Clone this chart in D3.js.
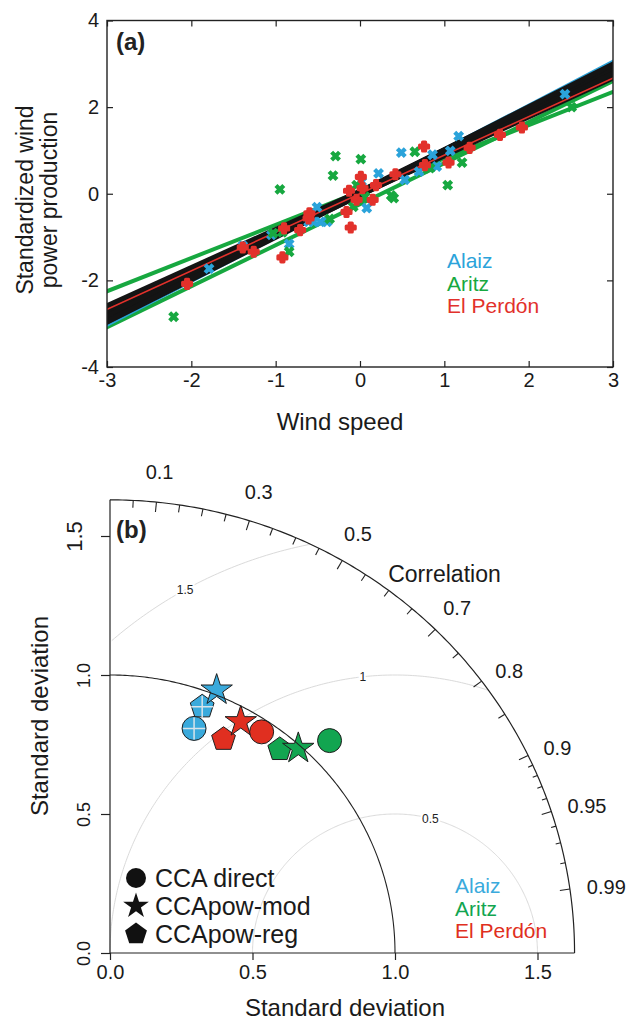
<!DOCTYPE html>
<html>
<head>
<meta charset="utf-8">
<script src="https://cdn.jsdelivr.net/npm/d3@7"></script>
<style>
  body { margin: 0; background: #fff; }
  text { font-family: "Liberation Sans", Arial, Helvetica, sans-serif; }
</style>
</head>
<body>
<div id="chart"></div>
<script>
// ---------- panel (a): standardized wind speed vs wind power, one list per farm
const alaizPts = [[2.43, 2.30], [1.17, 1.33], [1.07, 0.99], [0.86, 0.90], [0.91, 0.63],
  [0.70, 0.51], [0.49, 0.95], [0.53, 0.32], [0.22, 0.47], [0.08, -0.33], [0.02, 0.28],
  [-0.51, -0.31], [-0.61, -0.65], [-0.55, -0.65], [-0.47, -0.65], [-0.39, -0.65],
  [-1.05, -0.95], [-0.84, -1.16], [-1.39, -1.20], [-1.79, -1.73]];
const aritzPts = [[-2.21, -2.84], [-0.95, 0.10], [-0.84, -1.34], [-0.92, -0.89], [-1.03, -0.91],
  [-0.29, 0.87], [-0.32, 0.42], [-0.36, -0.58], [0.01, 0.80], [-0.04, 0.20], [0.06, -0.07],
  [-0.08, -0.30], [0.37, -0.04], [0.40, -0.10], [0.65, 0.97], [0.83, 0.59], [1.04, 0.20],
  [1.21, 0.72], [2.51, 2.00]];
const perdonPts = [[-2.05, -2.08], [-1.39, -1.24], [-1.26, -1.34], [-0.92, -1.47], [-0.90, -0.80],
  [-0.71, -0.84], [-0.60, -0.45], [-0.61, -0.57], [-0.16, -0.42], [-0.11, -0.78], [-0.13, 0.07],
  [-0.04, -0.14], [0.01, 0.39], [0.03, 0.13], [0.15, -0.14], [0.19, 0.20], [0.42, 0.45],
  [0.76, 1.09], [0.77, 0.66], [1.05, 0.72], [1.30, 1.06], [1.66, 1.36], [1.92, 1.53]];

const siteNames = ["Alaiz", "Aritz", "El Perdón"];
const siteColors = ["#2ba3da", "#17a840", "#e2312b"];

// coloured regression lines (site index, slope, intercept)
const fitSite = [1, 1, 0, 2];
const fitSlope = [0.767, 0.947, 1.012, 0.89];
const fitIntercept = [0.05, -0.24, 0.01, 0.0];
// black bundle of fitted lines
const bandSlope = [0.88, 0.90, 0.92, 0.94, 0.96, 0.98, 0.99];
const bandIntercept = [0.05, -0.02, 0.04, -0.03, 0.05, -0.02, 0.02];

const xTicksA = [-3, -2, -1, 0, 1, 2, 3];
const yTicksA = [-4, -2, 0, 2, 4];

// ---------- panel (b): Taylor diagram, [CCA direct, CCApow-mod, CCApow-reg]
const methodNames = ["CCA direct", "CCApow-mod", "CCApow-reg"];
const alaizSd = [0.860, 1.017, 0.943];
const alaizCor = [0.343, 0.368, 0.343];
const aritzSd = [1.085, 0.989, 0.944];
const aritzCor = [0.710, 0.668, 0.631];
const perdonSd = [0.957, 0.950, 0.866];
const perdonCor = [0.556, 0.483, 0.460];

const corTicks = [0.05, 0.1, 0.15, 0.2, 0.25, 0.3, 0.35, 0.4, 0.45, 0.5, 0.55, 0.6, 0.65,
  0.7, 0.75, 0.8, 0.85, 0.9, 0.91, 0.92, 0.93, 0.94, 0.95, 0.96, 0.97, 0.98, 0.99];
const corLabels = [0.1, 0.3, 0.5, 0.7, 0.8, 0.9, 0.95, 0.99];
const sdTicks = [0, 0.5, 1, 1.5];
const rmsLevels = [0.5, 1, 1.5];

const W = 630, H = 1023;
const svg = d3.select("#chart").append("svg")
    .attr("width", W)
    .attr("height", H);

// =================== panel (a) ===================
const xA = d3.scaleLinear().domain([-3, 3]).range([107, 613]);
const yA = d3.scaleLinear().domain([-4, 4]).range([367, 20.5]);

svg.append("clipPath").attr("id", "clipA")
  .append("rect")
    .attr("x", xA(-3)).attr("y", yA(4))
    .attr("width", xA(3) - xA(-3)).attr("height", yA(-4) - yA(4));

const plotA = svg.append("g").attr("clip-path", "url(#clipA)");

const fitPath = (m, b) => d3.line()([[xA(-3.2), yA(m * -3.2 + b)], [xA(3.2), yA(m * 3.2 + b)]]);

// green and blue fits under the black bundle
[0, 1, 2].forEach(i => {
  plotA.append("path")
    .attr("d", fitPath(fitSlope[i], fitIntercept[i]))
    .attr("stroke", siteColors[fitSite[i]])
    .attr("stroke-width", 4)
    .attr("fill", "none");
});

bandSlope.forEach((m, i) => {
  plotA.append("path")
    .attr("d", fitPath(m, bandIntercept[i]))
    .attr("stroke", "#141414")
    .attr("stroke-width", 5.5)
    .attr("fill", "none");
});

plotA.append("path")
  .attr("d", fitPath(fitSlope[3], fitIntercept[3]))
  .attr("stroke", siteColors[fitSite[3]])
  .attr("stroke-width", 1.6)
  .attr("fill", "none");

// thick x marker
const symbolX = {
  draw(ctx, size) {
    const r = Math.sqrt(size) / 2;
    ctx.moveTo(-r, -r); ctx.lineTo(r, r);
    ctx.moveTo(-r, r); ctx.lineTo(r, -r);
  }
};

const drawX = (pts, color) => {
  plotA.selectAll(null).data(pts).enter().append("path")
    .attr("transform", d => `translate(${xA(d[0])},${yA(d[1])})`)
    .attr("d", d3.symbol(symbolX, 62))
    .attr("stroke", color)
    .attr("stroke-width", 4.2)
    .attr("fill", "none");
};
drawX(alaizPts, siteColors[0]);
drawX(aritzPts, siteColors[1]);

// El Perdón: rounded, blobby plus
plotA.selectAll(null).data(perdonPts).enter().append("path")
  .attr("transform", d => `translate(${xA(d[0])},${yA(d[1])})`)
  .attr("d", d3.symbol(d3.symbolCross, 44))
  .attr("fill", siteColors[2])
  .attr("stroke", siteColors[2])
  .attr("stroke-width", 3.2)
  .attr("stroke-linejoin", "round");

// axes, ticks pointing inward
const styleAxis = g => {
  g.select(".domain").remove();
  g.selectAll("line").attr("stroke", "#222").attr("stroke-width", 1.2);
  g.selectAll("text").attr("font-size", 20).attr("fill", "#1a1a1a")
    .attr("font-family", "'Liberation Sans', Arial, sans-serif");
};
const plainNum = d => String(d);

svg.append("g")
  .attr("transform", `translate(0,${yA(-4)})`)
  .call(d3.axisBottom(xA).tickValues(xTicksA).tickSizeInner(-6).tickSizeOuter(0)
    .tickPadding(6).tickFormat(plainNum))
  .call(styleAxis);
svg.append("g")
  .attr("transform", `translate(0,${yA(4)})`)
  .call(d3.axisTop(xA).tickValues(xTicksA).tickSizeInner(-6).tickSizeOuter(0).tickFormat(""))
  .call(styleAxis);
svg.append("g")
  .attr("transform", `translate(${xA(-3)},0)`)
  .call(d3.axisLeft(yA).tickValues(yTicksA).tickSizeInner(-6).tickSizeOuter(0)
    .tickPadding(8).tickFormat(plainNum))
  .call(styleAxis);
svg.append("g")
  .attr("transform", `translate(${xA(3)},0)`)
  .call(d3.axisRight(yA).tickValues(yTicksA).tickSizeInner(-6).tickSizeOuter(0).tickFormat(""))
  .call(styleAxis);

svg.append("rect")
  .attr("x", xA(-3)).attr("y", yA(4))
  .attr("width", xA(3) - xA(-3)).attr("height", yA(-4) - yA(4))
  .attr("fill", "none")
  .attr("stroke", "#222")
  .attr("stroke-width", 1.4);

svg.append("text")
  .attr("x", 116).attr("y", 50)
  .attr("font-size", 24).attr("font-weight", "bold").attr("fill", "#222")
  .text("(a)");

// axis titles
svg.append("text")
  .attr("x", 340).attr("y", 430)
  .attr("text-anchor", "middle")
  .attr("font-size", 24).attr("fill", "#1a1a1a")
  .text("Wind speed");

svg.append("text")
  .attr("transform", "translate(33,200) rotate(-90)")
  .attr("text-anchor", "middle")
  .attr("font-size", 23).attr("fill", "#1a1a1a")
  .text("Standardized wind");
svg.append("text")
  .attr("transform", "translate(57,200) rotate(-90)")
  .attr("text-anchor", "middle")
  .attr("font-size", 23).attr("fill", "#1a1a1a")
  .text("power production");

// site legend
siteNames.forEach((s, i) => {
  svg.append("text")
    .attr("x", 447).attr("y", 268 + i * 22.5)
    .attr("font-size", 21).attr("fill", siteColors[i])
    .text(s);
});

// =================== panel (b) ===================
const sx = d3.scaleLinear().domain([0, 1]).range([110, 395]);
const sy = d3.scaleLinear().domain([0, 1]).range([953, 675]);
const rMax = 1.63;
const polar = (r, c) => [sx(r * c), sy(r * Math.sqrt(1 - c * c))];
const lineGen = d3.line();
const deg = Math.PI / 180;

const plotB = svg.append("g");

// centred RMS difference arcs (light grey), kept inside the outer arc
rmsLevels.forEach(L => {
  const pts = d3.range(0, 180.01, 0.5).map(a => [1 + L * Math.cos(a * deg), L * Math.sin(a * deg)]);
  const line = d3.line()
    .defined(p => Math.hypot(p[0], p[1]) <= rMax && p[0] >= 0)
    .x(p => sx(p[0])).y(p => sy(p[1]));
  plotB.append("path")
    .attr("d", line(pts))
    .attr("fill", "none")
    .attr("stroke", "#dadada")
    .attr("stroke-width", 1);
});

// labels sitting on the RMS arcs
const rmsLabelAngle = [75.6, 96.5, 119.4];
rmsLevels.forEach((L, i) => {
  const a = rmsLabelAngle[i] * deg;
  plotB.append("text")
    .attr("x", sx(1 + L * Math.cos(a)))
    .attr("y", sy(L * Math.sin(a)))
    .attr("dy", "0.35em")
    .attr("text-anchor", "middle")
    .attr("font-size", 12).attr("fill", "#222")
    .attr("stroke", "#fff").attr("stroke-width", 4).attr("paint-order", "stroke")
    .text(L);
});

// outer correlation arc
const outerPts = d3.range(0, 90.01, 0.5).map(a => [sx(rMax * Math.cos(a * deg)), sy(rMax * Math.sin(a * deg))]);
plotB.append("path")
  .attr("d", lineGen(outerPts))
  .attr("fill", "none").attr("stroke", "#222").attr("stroke-width", 1.2);

// axis lines
plotB.append("line")
  .attr("x1", sx(0)).attr("y1", sy(0)).attr("x2", sx(0)).attr("y2", sy(rMax))
  .attr("stroke", "#222").attr("stroke-width", 1.2);
plotB.append("line")
  .attr("x1", sx(0)).attr("y1", sy(0)).attr("x2", sx(rMax)).attr("y2", sy(0))
  .attr("stroke", "#222").attr("stroke-width", 1.2);

// correlation ticks, pointing inward
corTicks.forEach(c => {
  const lab = corLabels.includes(c);
  const len = lab ? 10 : (c > 0.9 && c < 0.99 && c !== 0.95 ? 5 : 7.5);
  const p1 = polar(rMax, c), p2 = polar(rMax - len / 282, c);
  plotB.append("line")
    .attr("x1", p1[0]).attr("y1", p1[1]).attr("x2", p2[0]).attr("y2", p2[1])
    .attr("stroke", "#222").attr("stroke-width", 1.1);
});

corLabels.forEach(c => {
  const p = c <= 0.7 ? polar(1.74, c) : polar(1.69, c);
  plotB.append("text")
    .attr("x", p[0]).attr("y", p[1])
    .attr("dy", "0.35em")
    .attr("text-anchor", c <= 0.7 ? "middle" : "start")
    .attr("font-size", 20).attr("fill", "#1a1a1a")
    .text(c);
});

const corTitle = polar(1.80, 0.652);
plotB.append("text")
  .attr("x", corTitle[0]).attr("y", corTitle[1])
  .attr("dy", "0.35em")
  .attr("text-anchor", "middle")
  .attr("font-size", 23).attr("fill", "#1a1a1a")
  .text("Correlation");

// standard deviation axes
svg.append("g")
  .attr("transform", `translate(${sx(0)},0)`)
  .call(d3.axisLeft(sy).tickValues(sdTicks).tickSize(9).tickFormat(d3.format(".1f")))
  .call(g => {
    g.select(".domain").remove();
    g.selectAll("line").attr("stroke", "#222").attr("stroke-width", 1.2);
    g.selectAll("text")
      .attr("transform", "rotate(-90)")
      .attr("x", 0).attr("dy", 0)
      .attr("y", d => d === 1.5 ? -28 : -20)
      .attr("text-anchor", "middle")
      .attr("font-size", d => d === 1.5 ? 22 : 18)
      .attr("fill", "#1a1a1a")
      .attr("font-family", "'Liberation Sans', Arial, sans-serif");
  });

svg.append("g")
  .attr("transform", `translate(0,${sy(0)})`)
  .call(d3.axisBottom(sx).tickValues(sdTicks).tickSize(7).tickPadding(5).tickFormat(d3.format(".1f")))
  .call(g => {
    g.select(".domain").remove();
    g.selectAll("line").attr("stroke", "#222").attr("stroke-width", 1.2);
    g.selectAll("text").attr("font-size", 20).attr("fill", "#1a1a1a")
      .attr("font-family", "'Liberation Sans', Arial, sans-serif");
  });

svg.append("text")
  .attr("x", 345).attr("y", 1016)
  .attr("text-anchor", "middle")
  .attr("font-size", 24).attr("fill", "#1a1a1a")
  .text("Standard deviation");
svg.append("text")
  .attr("transform", "translate(48,716) rotate(-90)")
  .attr("text-anchor", "middle")
  .attr("font-size", 24).attr("fill", "#1a1a1a")
  .text("Standard deviation");

svg.append("text")
  .attr("x", 116).attr("y", 538)
  .attr("font-size", 24).attr("font-weight", "bold").attr("fill", "#222")
  .text("(b)");

// marker shapes: circle, star, pentagon
const symbolPentagon = {
  draw(ctx, size) {
    const R = Math.sqrt(size / 2.378);
    for (let k = 0; k < 5; k++) {
      const a = (-90 + k * 72) * deg;
      if (k === 0) ctx.moveTo(R * Math.cos(a), R * Math.sin(a));
      else ctx.lineTo(R * Math.cos(a), R * Math.sin(a));
    }
    ctx.closePath();
  }
};
const methodSymbol = [
  d3.symbol(d3.symbolCircle, Math.PI * 12 * 12),
  d3.symbol(d3.symbolStar, 16.5 * 16.5 / 0.8908),
  d3.symbol(symbolPentagon, 2.378 * 12.5 * 12.5)
];
const legendSymbol = [
  d3.symbol(d3.symbolCircle, Math.PI * 10 * 10),
  d3.symbol(d3.symbolStar, 13.5 * 13.5 / 0.8908),
  d3.symbol(symbolPentagon, 2.378 * 11.5 * 11.5)
];
const markColors = ["#3aaadc", "#12a550", "#e02f20"];
const siteSd = [alaizSd, aritzSd, perdonSd];
const siteCor = [alaizCor, aritzCor, perdonCor];

// pentagons first, then stars, then circles
[2, 1, 0].forEach(m => {
  siteSd.forEach((sds, s) => {
    const p = polar(sds[m], siteCor[s][m]);
    plotB.append("path")
      .attr("transform", `translate(${p[0]},${p[1]})`)
      .attr("d", methodSymbol[m])
      .attr("fill", markColors[s])
      .attr("stroke", "#1e1e1e")
      .attr("stroke-width", 1);
    // Alaiz circle and pentagon carry a light cross
    if (s === 0 && m !== 1) {
      plotB.append("path")
        .attr("d", `M${p[0] - 11},${p[1]}H${p[0] + 11}M${p[0]},${p[1] - 11}V${p[1] + 11}`)
        .attr("stroke", "#d8e4ea").attr("stroke-width", 1.5);
    }
  });
});

// reference arc (sd = 1)
const refPts = d3.range(0, 90.01, 0.5).map(a => [sx(Math.cos(a * deg)), sy(Math.sin(a * deg))]);
plotB.append("path")
  .attr("d", lineGen(refPts))
  .attr("fill", "none").attr("stroke", "#222").attr("stroke-width", 1.1);

// method legend
methodNames.forEach((name, i) => {
  const cy = 878 + i * 28;
  svg.append("path")
    .attr("transform", `translate(136,${cy})`)
    .attr("d", legendSymbol[i])
    .attr("fill", "#111");
  svg.append("text")
    .attr("x", 155).attr("y", cy + 8.5)
    .attr("font-size", 25).attr("fill", "#1a1a1a")
    .text(name);
});

// site legend
siteNames.forEach((s, i) => {
  svg.append("text")
    .attr("x", 455).attr("y", 893 + i * 22.5)
    .attr("font-size", 21).attr("fill", markColors[i])
    .text(s);
});
</script>
</body>
</html>
